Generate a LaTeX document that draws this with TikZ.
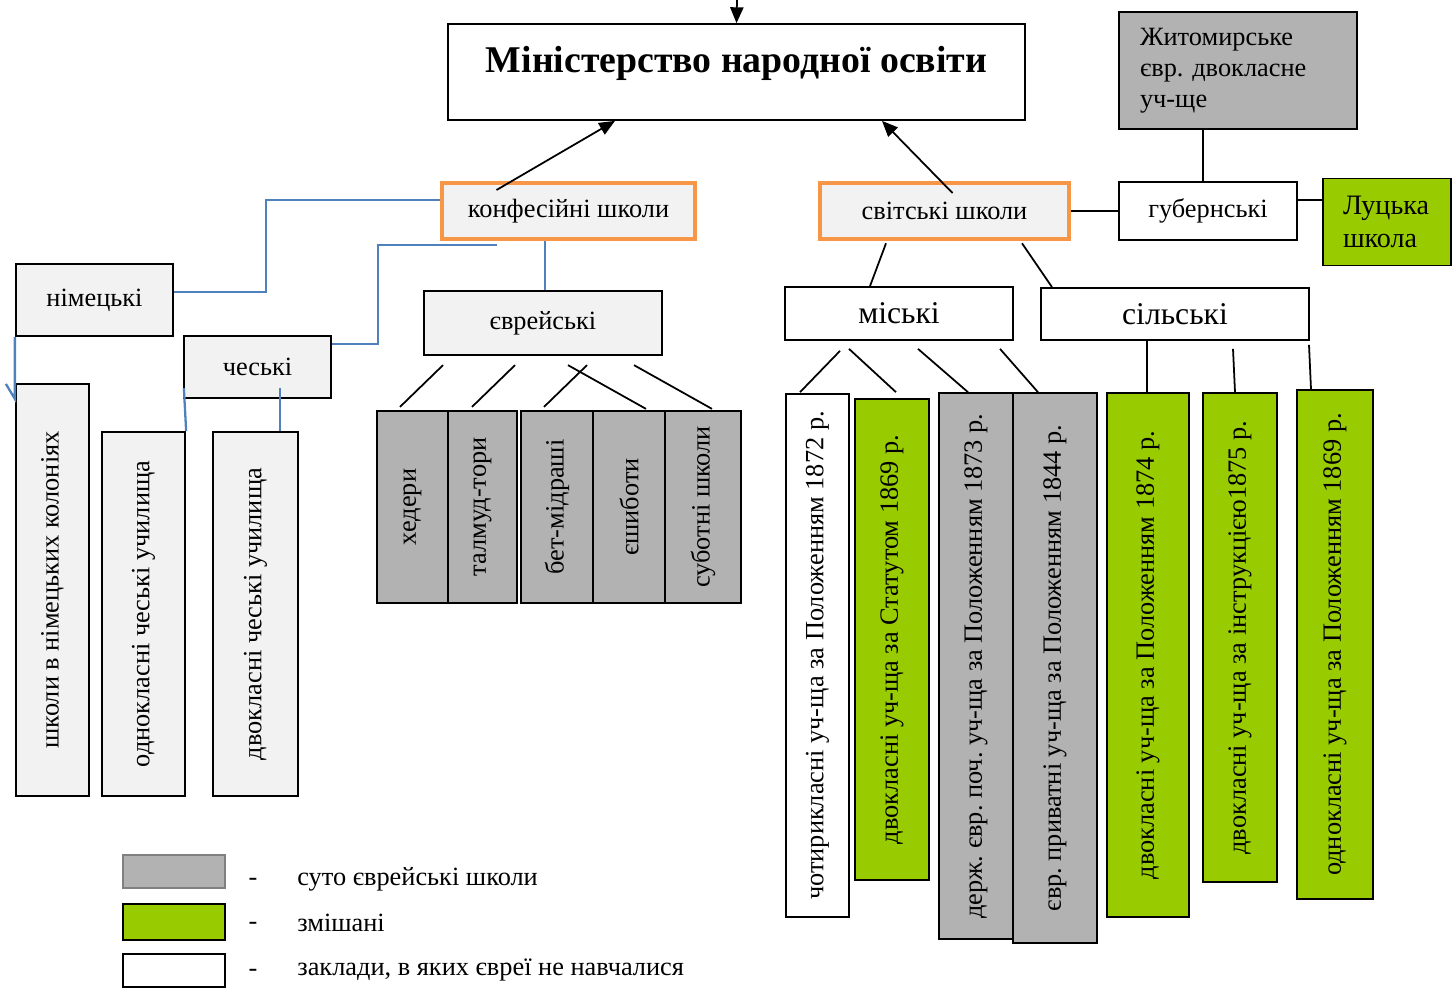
\documentclass[tikz,border=0pt]{standalone}
\usepackage{fontspec}
\setmainfont{Liberation Serif}
\usepackage{graphicx}
\usetikzlibrary{calc,arrows.meta}
\definecolor{orangeline}{HTML}{F79646}
\definecolor{linkblue}{HTML}{4F81BD}
\definecolor{jewgray}{HTML}{B2B2B2}
\definecolor{mixgreen}{HTML}{99CC00}
\definecolor{paleface}{HTML}{F2F2F2}
\newcommand{\bodyfont}{\fontsize{15}{17.6}\selectfont}
\newcommand{\bigfont}{\fontsize{18}{21}\selectfont}
\frenchspacing
\tikzset{
	box/.style={draw, line width=1.3pt, inner sep=2pt, font=\bodyfont},
	palebox/.style={box, fill=paleface},
	graybox/.style={box, fill=jewgray},
	greenbox/.style={box, fill=mixgreen},
	whitebox/.style={box, fill=white, line width=1pt},
	kindbox/.style={box, draw=orangeline, fill=paleface, line width=2.6pt},
	link/.style={line width=1pt},
	bluelink/.style={draw=linkblue, line width=1.3pt},
	uparrow/.style={link, -{Triangle[length=9pt,width=7.5pt]}},
}

\begin{document}
\begin{tikzpicture}[x=0.02cm, y=-0.02cm]
			%%%%% START %%%%%
			\useasboundingbox (0,0) rectangle (1453,994);
			
			% top level
			\node[whitebox, inner sep=0pt, minimum width=11.54cm, text height=0.96cm, text depth=0.96cm,
			      font=\fontsize{21.5}{25}\selectfont\bfseries] (ministry) at (736.5,72) {Міністерство народної освіти};
			\coordinate (above) at (737,0);
			\draw[uparrow] (above) -- (ministry.north);
			
			\node[kindbox, minimum width=5.06cm, minimum height=1.12cm] (konf) at (568.5,211) {конфесійні школи};
			\node[kindbox, minimum width=4.98cm, minimum height=1.12cm] (svit) at (944.5,211) {світські школи};
			\draw[uparrow] ($(konf.center)+(-72,-21)$) -- ($(ministry.south)+(-121.5,0)$);
			\draw[uparrow] ($(svit.center)+(8,-18)$) -- ($(ministry.south)+(145.5,0)$);
			
			% gubernial schools
			\node[whitebox, minimum width=3.56cm, minimum height=1.16cm] (gub) at (1208,211) {губернські};
			\node[graybox, line width=1pt, minimum width=4.76cm, minimum height=2.34cm, text width=3.92cm, align=left]
			      (zhyt) at (1238,70.5) {Житомирське\\євр. двокласне\\уч-ще};
			\node[greenbox, line width=1pt, minimum width=2.56cm, minimum height=1.74cm, text width=1.76cm, align=left,
			      font=\fontsize{16}{18.6}\selectfont] (luck) at (1387,222) {Луцька\\школа};
			\draw[link] (svit.east) -- (gub.west);
			\draw[link] ($(gub.north)+(-5,0)$) -- ($(zhyt.south)+(-35,0)$);
			\draw[link] ($(gub.east)+(0,-11)$) -- ($(luck.west)+(0,-22)$);
			
			% german and czech
			\node[palebox, minimum width=3.14cm, minimum height=1.44cm] (nim) at (94.5,300) {німецькі};
			\node[palebox, minimum width=2.94cm, minimum height=1.24cm] (ches) at (257.5,367) {чеські};
			\node[palebox, minimum width=1.46cm, minimum height=8.24cm] (kol) at (52.5,590) {\rotatebox{90}{школи в німецьких колоніях}};
			\node[palebox, minimum width=1.66cm, minimum height=7.28cm] (odn) at (143.5,614) {\rotatebox{90}{однокласні чеські училища}};
			\node[palebox, minimum width=1.70cm, minimum height=7.28cm] (dvo) at (255.5,614) {\rotatebox{90}{двокласні чеські училища}};
			
			\draw[bluelink] ($(konf.west)+(0,-11)$) -| ($(nim.east)+(92,-8)$) -- ($(nim.east)+(0,-8)$);
			\draw[bluelink] ($(konf.south)+(-71.5,4)$) -| ($(ches.east)+(46,-23)$) -- ($(ches.east)+(0,-23)$);
			\draw[bluelink] (nim.south west) -- ($(kol.north west)+(0,16)$) -- ++(-9,-15);
			\draw[bluelink] ($(ches.south west)+(1,-11)$) -- (odn.north east);
			\draw[bluelink] ($(ches.south)+(22.5,-11)$) -- ($(dvo.north)+(24.5,0)$);
			
			% jewish confessional
			\node[palebox, minimum width=4.76cm, minimum height=1.28cm] (evr) at (543,323) {єврейські};
			\draw[bluelink] ($(konf.south)+(-23.5,0)$) -- ($(evr.north)+(2,0)$);
			\node[graybox, minimum width=1.42cm, minimum height=3.84cm] (heder) at (412.5,507) {\rotatebox{90}{хедери}};
			\node[graybox, minimum width=1.38cm, minimum height=3.84cm] (talmud) at (482.5,507) {\rotatebox{90}{талмуд-тори}};
			\node[graybox, minimum width=1.44cm, minimum height=3.84cm] (bet) at (557,507) {\rotatebox{90}{бет-мідраші}};
			\node[graybox, minimum width=1.44cm, minimum height=3.84cm] (esh) at (629,507) {\rotatebox{90}{єшиботи}};
			\node[graybox, minimum width=1.52cm, minimum height=3.84cm] (sub) at (703,507) {\rotatebox{90}{суботні школи}};
			\draw[link] ($(evr.south)+(-100,9)$) -- ($(heder.north)+(-12.5,-3)$);
			\draw[link] ($(evr.south)+(-28,9)$) -- ($(talmud.north)+(-10.5,-3)$);
			\draw[link] ($(evr.south)+(44,9)$) -- ($(bet.north)+(-13,-3)$);
			\draw[link] ($(evr.south)+(25,9)$) -- ($(esh.north)+(17,-1)$);
			\draw[link] ($(evr.south)+(91,9)$) -- ($(sub.north)+(9,-1)$);
			
			% secular
			\node[whitebox, minimum width=4.56cm, minimum height=1.06cm, font=\bigfont] (mis) at (899,313.5) {міські};
			\node[whitebox, minimum width=5.36cm, minimum height=1.04cm, font=\bigfont] (sil) at (1175,314) {сільські};
			\draw[link] ($(svit.south)+(-58.5,2)$) -- ($(mis.north)+(-29,0)$);
			\draw[link] ($(svit.south)+(77.5,2)$) -- ($(sil.north)+(-123,0)$);
			
			\node[whitebox, minimum width=1.26cm, minimum height=10.46cm] (ra) at (817.5,655.5) {\rotatebox{90}{чотирикласні уч-ща за Положенням 1872 р.}};
			\node[greenbox, line width=1pt, minimum width=1.48cm, minimum height=9.62cm] (rb) at (892,639.5) {\rotatebox{90}{двокласні уч-ща за Статутом 1869 р.}};
			\node[graybox, line width=1pt, minimum width=1.48cm, minimum height=10.92cm] (rc) at (976,666) {\rotatebox{90}{держ. євр. поч. уч-ща за Положенням 1873 р.}};
			\node[graybox, line width=1pt, minimum width=1.68cm, minimum height=11.0cm] (rd) at (1055,668) {\rotatebox{90}{євр. приватні уч-ща за Положенням 1844 р.}};
			\node[greenbox, line width=1pt, minimum width=1.64cm, minimum height=10.48cm] (re) at (1148,655) {\rotatebox{90}{двокласні уч-ща за Положенням 1874 р.}};
			\node[greenbox, line width=1pt, minimum width=1.48cm, minimum height=9.78cm] (rf) at (1240,637.5) {\rotatebox{90}{двокласні уч-ща за інструкцією1875 р.}};
			\node[greenbox, line width=1pt, minimum width=1.52cm, minimum height=10.18cm] (rg) at (1335,644.5) {\rotatebox{90}{однокласні уч-ща за Положенням 1869 р.}};
			
			\draw[link] ($(mis.south)+(-59,10)$) -- ($(ra.north)+(-17.5,-1)$);
			\draw[link] ($(mis.south)+(-50,8)$) -- ($(rb.north)+(4,-6)$);
			\draw[link] ($(mis.south)+(19,8)$) -- ($(rc.north)+(-8,0)$);
			\draw[link] ($(mis.south)+(101,8)$) -- ($(rd.north)+(-17,0)$);
			\draw[link] ($(sil.south)+(-28,0)$) -- ($(re.north)+(-1,0)$);
			\draw[link] ($(sil.south)+(58,8)$) -- ($(rf.north)+(-5,0)$);
			\draw[link] ($(sil.south)+(134,4)$) -- ($(rg.north)+(-24,0)$);
			
			% legend
			\node[graybox, draw=black!50, line width=1pt, minimum width=2.04cm, minimum height=0.66cm] (leggray) at (174,871.5) {};
			\node[greenbox, line width=1pt, minimum width=2.04cm, minimum height=0.72cm] (leggreen) at (174,922) {};
			\node[whitebox, minimum width=2.04cm, minimum height=0.66cm] (legwhite) at (174,970.5) {};
			\node[font=\bodyfont] (dashgray) at (253,882) {-};
			\node[font=\bodyfont] (dashgreen) at (253,926) {-};
			\node[font=\bodyfont] (dashwhite) at (253,973) {-};
			\node[font=\bodyfont, anchor=west, inner sep=0pt] (txtgray) at (297,879) {суто єврейські школи};
			\node[font=\bodyfont, anchor=west, inner sep=0pt] (txtgreen) at (297,923) {змішані};
			\node[font=\bodyfont, anchor=west, inner sep=0pt] (txtwhite) at (297,970) {заклади, в яких євреї не навчалися};
			
			%%%%% END %%%%%
		\end{tikzpicture}
\end{document}
